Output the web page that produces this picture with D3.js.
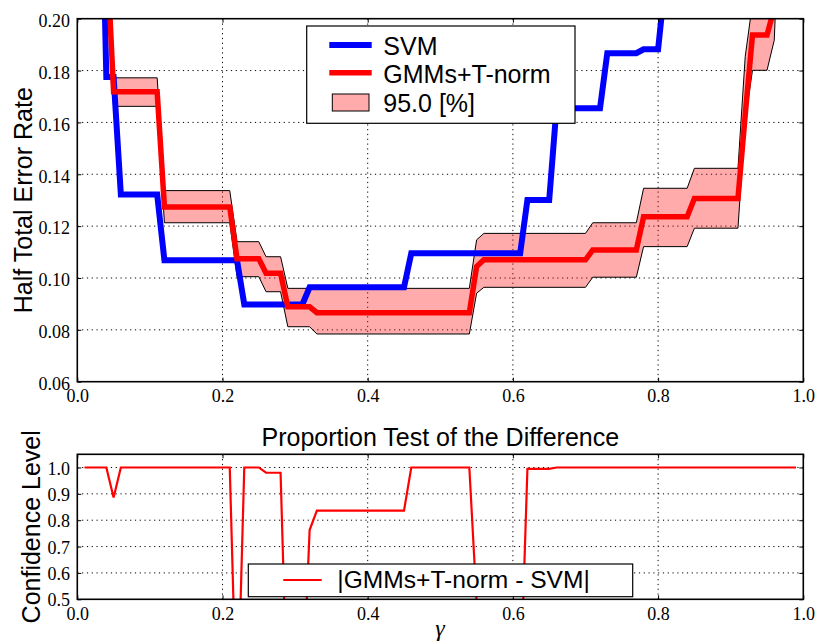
<!DOCTYPE html>
<html lang="en">
<head>
<meta charset="utf-8">
<title>HTER vs gamma</title>
<script src="https://d3js.org/d3.v7.min.js"></script>
<style>
  body { margin: 0; background: #fff; }
  .tick text { font-family: "Liberation Serif", "Times New Roman", serif; font-size: 18px; fill: #000; }
  .tick line { stroke: #000; stroke-width: 1; }
  .lab { font-family: "Liberation Sans", Arial, sans-serif; font-size: 25px; fill: #000; }
  .grid { stroke: #000; stroke-width: 1; stroke-dasharray: 1.2,3.6; }
</style>
</head>
<body>
<div id="chart"></div>
<script>
// data (gamma, value)
var svmGamma = [0.03, 0.04, 0.05, 0.06, 0.11, 0.12, 0.22, 0.23, 0.31, 0.32, 0.45, 0.46, 0.61, 0.62, 0.65, 0.66, 0.72, 0.73, 0.77, 0.78, 0.80, 0.81];
var svmHter  = [0.30, 0.1775, 0.1775, 0.1322, 0.1322, 0.1068, 0.1068, 0.0898, 0.0898, 0.0964, 0.0964, 0.1095, 0.1095, 0.1301, 0.1301, 0.1655, 0.1655, 0.1867, 0.1867, 0.1882, 0.1882, 0.215];

var gmmGamma = [0.04, 0.05, 0.11, 0.12, 0.21, 0.22, 0.25, 0.26, 0.28, 0.29, 0.32, 0.33, 0.54, 0.55, 0.56, 0.70, 0.71, 0.77, 0.78, 0.84, 0.85, 0.91, 0.92, 0.93, 0.95, 0.96, 0.97];
var gmmHter  = [0.23, 0.1718, 0.1718, 0.1274, 0.1274, 0.1074, 0.1074, 0.1018, 0.1018, 0.0889, 0.0889, 0.0866, 0.0866, 0.1044, 0.1070, 0.1070, 0.1108, 0.1108, 0.1236, 0.1236, 0.1307, 0.1307, 0.1629, 0.1937, 0.1937, 0.204, 0.27];

var ciHiGamma = [0.04, 0.05, 0.11, 0.12, 0.21, 0.22, 0.25, 0.26, 0.28, 0.29, 0.54, 0.55, 0.56, 0.70, 0.71, 0.77, 0.78, 0.84, 0.85, 0.91, 0.92, 0.93, 0.97];
var ciHi      = [0.245, 0.1772, 0.1772, 0.1337, 0.1337, 0.1140, 0.1140, 0.1082, 0.1082, 0.0960, 0.0960, 0.1147, 0.1172, 0.1172, 0.1213, 0.1213, 0.1346, 0.1346, 0.1423, 0.1423, 0.1854, 0.206, 0.29];

var ciLoGamma = [0.04, 0.05, 0.11, 0.12, 0.21, 0.22, 0.25, 0.26, 0.28, 0.29, 0.32, 0.33, 0.54, 0.55, 0.56, 0.70, 0.71, 0.77, 0.78, 0.84, 0.85, 0.91, 0.92, 0.93, 0.95, 0.96, 0.97];
var ciLo      = [0.215, 0.1662, 0.1662, 0.1213, 0.1213, 0.1005, 0.1005, 0.0947, 0.0947, 0.0812, 0.0812, 0.0784, 0.0784, 0.0941, 0.0964, 0.0964, 0.1003, 0.1003, 0.1121, 0.1121, 0.1192, 0.1192, 0.1608, 0.1801, 0.1801, 0.1917, 0.26];

var confGamma = [0.01, 0.04, 0.05, 0.06, 0.21, 0.22, 0.23, 0.25, 0.26, 0.28, 0.29, 0.31, 0.32, 0.33, 0.45, 0.46, 0.54, 0.55, 0.56, 0.61, 0.62, 0.65, 0.66, 0.99];
var confLevel = [1.0, 1.0, 0.886, 1.0, 1.0, 0.0, 1.0, 1.0, 0.98, 0.98, 0.02, 0.1, 0.7625, 0.836, 0.836, 1.0, 1.0, 0.49, 0.1, 0.13, 0.995, 0.995, 1.0, 1.0];

var xTicks = [0, 0.2, 0.4, 0.6, 0.8, 1.0];
var topYTicks = [0.06, 0.08, 0.10, 0.12, 0.14, 0.16, 0.18, 0.20];
var botYTicks = [0.5, 0.6, 0.7, 0.8, 0.9, 1.0];

var w = 816, h = 644;
var x0 = 77.3, x1 = 803.3;
var topT = 18.7, topB = 381.7;
var botT = 454.3, botB = 599.3;

var svg = d3.select("#chart").append("svg").attr("width", w).attr("height", h);

var x = d3.scaleLinear().domain([0, 1]).range([x0, x1]);
var yTop = d3.scaleLinear().domain([0.06, 0.20]).range([topB, topT]);
var yBot = d3.scaleLinear().domain([0.5, 1.05]).range([botB, botT]);

function zip(a, b) { return a.map(function(g, i) { return [g, b[i]]; }); }

var defs = svg.append("defs");
defs.append("clipPath").attr("id", "clipTop").append("rect")
  .attr("x", x0).attr("y", topT).attr("width", x1 - x0).attr("height", topB - topT);
defs.append("clipPath").attr("id", "clipBot").append("rect")
  .attr("x", x0).attr("y", botT).attr("width", x1 - x0).attr("height", botB - botT);

function grid(yScale, yVals, t, b) {
  svg.append("g").selectAll("line.gx").data(xTicks.slice(1, -1)).enter().append("line")
    .attr("class", "grid").attr("x1", function(d) { return x(d); }).attr("x2", function(d) { return x(d); })
    .attr("y1", t).attr("y2", b);
  svg.append("g").selectAll("line.gy").data(yVals).enter().append("line")
    .attr("class", "grid").attr("y1", function(d) { return yScale(d); }).attr("y2", function(d) { return yScale(d); })
    .attr("x1", x0).attr("x2", x1);
}

function axes(yScale, yVals, t, b, yFmt, ydy) {
  var gb = svg.append("g").attr("transform", "translate(0," + b + ")")
    .call(d3.axisBottom(x).tickValues(xTicks).tickFormat(d3.format(".1f")).tickSize(-4).tickSizeOuter(0).tickPadding(7.8));
  var gt = svg.append("g").attr("transform", "translate(0," + t + ")")
    .call(d3.axisTop(x).tickValues(xTicks).tickFormat("").tickSize(-4).tickSizeOuter(0));
  var gl = svg.append("g").attr("transform", "translate(" + x0 + ",0)")
    .call(d3.axisLeft(yScale).tickValues(yVals).tickFormat(d3.format(yFmt)).tickSize(-4).tickSizeOuter(0).tickPadding(7.3));
  gl.selectAll("text").attr("dy", ydy);
  var gr = svg.append("g").attr("transform", "translate(" + x1 + ",0)")
    .call(d3.axisRight(yScale).tickValues(yVals).tickFormat("").tickSize(-4).tickSizeOuter(0));
  [gb, gt, gl, gr].forEach(function(g) { g.select(".domain").remove(); g.attr("font-family", null).attr("font-size", null); });
  svg.append("rect").attr("x", x0).attr("y", t).attr("width", x1 - x0).attr("height", b - t)
    .attr("fill", "none").attr("stroke", "#000").attr("stroke-width", 1.6);
}

// ---------- top panel ----------
grid(yTop, topYTicks.slice(1, -1), topT, topB);

var lineTop = d3.line().x(function(d) { return x(d[0]); }).y(function(d) { return yTop(d[1]); });
var band = zip(ciHiGamma, ciHi).concat(zip(ciLoGamma, ciLo).reverse());

var plotTop = svg.append("g").attr("clip-path", "url(#clipTop)");
plotTop.append("path").attr("d", lineTop(band) + "Z")
  .attr("fill", "#ff0000").attr("fill-opacity", 0.33)
  .attr("stroke", "#000").attr("stroke-width", 1);
plotTop.append("path").attr("d", lineTop(zip(svmGamma, svmHter)))
  .attr("fill", "none").attr("stroke", "#0000ff").attr("stroke-width", 6).attr("stroke-linejoin", "miter");
plotTop.append("path").attr("d", lineTop(zip(gmmGamma, gmmHter)))
  .attr("fill", "none").attr("stroke", "#ff0000").attr("stroke-width", 5.5).attr("stroke-linejoin", "miter");

axes(yTop, topYTicks, topT, topB, ".2f", "0.43em");

svg.append("text").attr("class", "lab")
  .attr("transform", "translate(32," + ((topT + topB) / 2) + ") rotate(-90)")
  .attr("text-anchor", "middle").text("Half Total Error Rate");

// top legend
var lg = svg.append("g");
lg.append("rect").attr("x", 306.7).attr("y", 26).attr("width", 268.3).attr("height", 97.3)
  .attr("fill", "#fff").attr("stroke", "#000").attr("stroke-width", 1.2);
lg.append("line").attr("x1", 329.3).attr("x2", 371.7).attr("y1", 45).attr("y2", 45)
  .attr("stroke", "#0000ff").attr("stroke-width", 6);
lg.append("line").attr("x1", 329.3).attr("x2", 371.7).attr("y1", 72.7).attr("y2", 72.7)
  .attr("stroke", "#ff0000").attr("stroke-width", 5.5);
lg.append("rect").attr("x", 332.3).attr("y", 94).attr("width", 36.7).attr("height", 17)
  .attr("fill", "#ff0000").attr("fill-opacity", 0.33).attr("stroke", "#000").attr("stroke-width", 1);
lg.append("text").attr("class", "lab").attr("x", 383.3).attr("y", 55).text("SVM");
lg.append("text").attr("class", "lab").attr("x", 383.3).attr("y", 83.3).text("GMMs+T-norm");
lg.append("text").attr("class", "lab").attr("x", 383.3).attr("y", 111.7).text("95.0 [%]");

// ---------- bottom panel ----------
grid(yBot, botYTicks.slice(1), botT, botB);

var lineBot = d3.line().x(function(d) { return x(d[0]); }).y(function(d) { return yBot(d[1]); });
svg.append("g").attr("clip-path", "url(#clipBot)")
  .append("path").attr("d", lineBot(zip(confGamma, confLevel)))
  .attr("fill", "none").attr("stroke", "#ff0000").attr("stroke-width", 2.2);

axes(yBot, botYTicks, botT, botB, ".1f", "0.37em");

svg.append("text").attr("class", "lab")
  .attr("x", (x0 + x1) / 2).attr("y", 446).attr("text-anchor", "middle")
  .text("Proportion Test of the Difference");

svg.append("text").attr("class", "lab")
  .attr("transform", "translate(40," + ((botT + botB) / 2) + ") rotate(-90)")
  .attr("text-anchor", "middle").text("Confidence Level");

svg.append("text").attr("x", 440).attr("y", 636).attr("text-anchor", "middle")
  .style("font-family", "'Liberation Serif', serif").style("font-style", "italic").style("font-size", "24px")
  .text("γ");

// bottom legend
var lb = svg.append("g");
lb.append("rect").attr("x", 248.3).attr("y", 564).attr("width", 384.4).attr("height", 32.7)
  .attr("fill", "#fff").attr("stroke", "#000").attr("stroke-width", 1.2);
lb.append("line").attr("x1", 283.3).attr("x2", 321.7).attr("y1", 580).attr("y2", 580)
  .attr("stroke", "#ff0000").attr("stroke-width", 2.2);
lb.append("text").attr("class", "lab").attr("x", 337.3).attr("y", 588.3)
  .style("font-size", "24.6px").text("|GMMs+T-norm - SVM|");
</script>
</body>
</html>
